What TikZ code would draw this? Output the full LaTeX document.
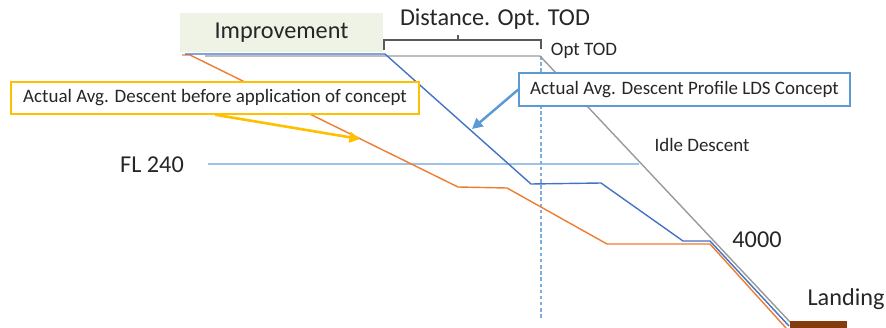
\documentclass[tikz,border=0pt]{standalone}
\usepackage{fontspec}
\setmainfont{Carlito}
\usepackage{tikz}
\usetikzlibrary{arrows.meta}
\usetikzlibrary{positioning}
\definecolor{ldsblue}{HTML}{4472C4}
\definecolor{oldorange}{HTML}{ED7D31}
\definecolor{idlegray}{HTML}{9A9A9A}
\definecolor{flblue}{HTML}{9DC3E6}
\definecolor{todblue}{HTML}{5B9BD5}
\definecolor{callyellow}{HTML}{FFC000}
\definecolor{rwbrown}{HTML}{843C0C}
\definecolor{imprgreen}{HTML}{EEF3E6}
\definecolor{txtgray}{HTML}{262626}
\tikzset{
  lbl_big/.style = {inner sep=0pt, text=txtgray,
    font=\fontsize{13.8}{16}\selectfont},% grands textes
  lbl_small/.style = {inner sep=0pt, text=txtgray,
    font=\fontsize{10.8}{12}\selectfont},% petits textes
  call_box/.style = {lbl_small, draw, fill=white, line width=0.8pt},% bulle
  call_arrow/.style = {line width=1.5pt, -{Triangle[length=6pt,width=6pt]}},
  prof/.style = {line width=0.8pt, line join=round}% profil de descente
}

\begin{document}
\begin{tikzpicture}[x=0.02cm,y=-0.02cm]
\useasboundingbox (0,0) rectangle (886,328);
% corners of the profiles
\coordinate (g0) at (205,56);
\coordinate (g1) at (540,56);
\coordinate (g2) at (791,323);
\coordinate (b0) at (185,54);
\coordinate (b1) at (385,54);
\coordinate (b2) at (531,184);
\coordinate (b3) at (601,183);
\coordinate (b4) at (683,241);
\coordinate (b5) at (710,241);
\coordinate (b6) at (789,326);
\coordinate (o0) at (182,55);
\coordinate (o1) at (190,55);
\coordinate (o2) at (458,187);
\coordinate (o3) at (507,188);
\coordinate (o4) at (607,244);
\coordinate (o5) at (710,244);
\coordinate (o6) at (786,328);
\coordinate (fl0) at (208,164);
\coordinate (fl1) at (639,164);
\coordinate (tod0) at (541,56);
\coordinate (tod1) at (541,318);

\node [fill=imprgreen, minimum width=4.08cm, minimum height=0.8cm,
  lbl_big] (impr) at (281.5,32.5) {Improvement};

\draw [flblue, line width=0.6pt] (fl0) -- (fl1);
\draw [todblue!80, line width=0.6pt, dash pattern=on 2pt off 1.5pt] (tod0) -- (tod1);
\draw [prof, idlegray] (g0) -- (g1) -- (g2);
\draw [prof, oldorange] (o0) -- (o1) -- (o2) -- (o3) -- (o4) -- (o5) -- (o6);
\draw [prof, ldsblue] (b0) -- (b1) -- (b2) -- (b3) -- (b4) -- (b5) -- (b6);

% distance brace
\coordinate (br0) at (384,50);
\coordinate (br1) at (541,49);
\coordinate (brtop) at (458,35);
\draw [black!65, line width=0.6pt] (br0) |- (br1 |- 0,40) -- (br1);
\draw [black!65, line width=0.6pt] (brtop |- 0,40) -- (brtop);
\node [lbl_big] (dist) at (495,19) {Distance. Opt. TOD};
\node [lbl_small] (opttod) at (584,51) {Opt TOD};

\node [lbl_big] (fl) at (152,165) {FL 240};
\node [lbl_small] (idle) at (702,145) {Idle Descent};
\node [lbl_big] (alt) at (757,240) {4000};
\node [lbl_big] (land) at (846,299) {Landing};
\fill [rwbrown] (790,321) rectangle (847,328);

% callouts
\node [call_box, draw=callyellow, minimum width=8.16cm,
  minimum height=0.64cm] (oldcall) at (215,98)
  {Actual Avg. Descent before application of concept};
\node [call_box, draw=todblue, minimum width=6.62cm,
  minimum height=0.66cm] (ldscall) at (684.5,89.5)
  {Actual Avg. Descent Profile LDS Concept};
\coordinate (oldtip) at (360,139);
\coordinate (ldstip) at (472,129);
\draw [call_arrow, callyellow] (oldcall.south) -- (oldtip);
\draw [call_arrow, todblue, line width=1.4pt] (ldscall.west) -- (ldstip);
\end{tikzpicture}
\end{document}
